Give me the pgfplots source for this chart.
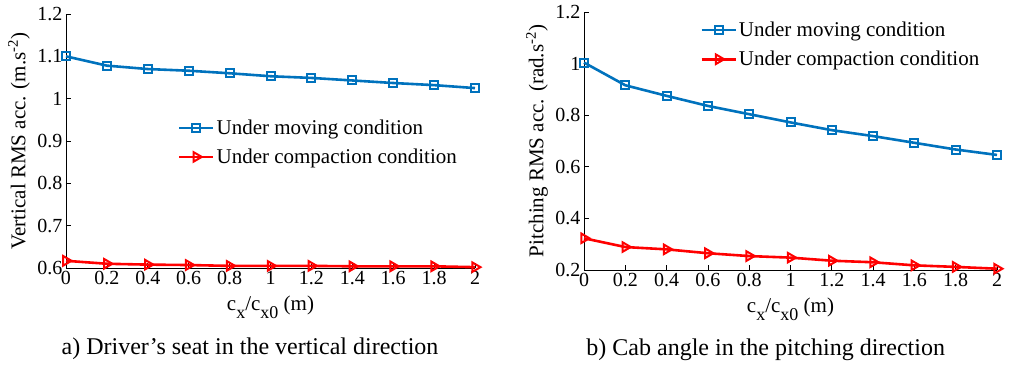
\documentclass[border=0pt]{standalone}
\usepackage{pgfplots}
\pgfplotsset{compat=1.18}
\usepackage{fontspec}
\setmainfont{Liberation Serif}
\definecolor{mblue}{RGB}{0,114,189}
\definecolor{mred}{RGB}{255,0,0}
\pgfplotsset{
  mystyle/.style={
    scale only axis,
    axis x line*=bottom, axis y line*=left,
    axis line style={-, black, line width=0.8pt},
    tick style={black, line width=0.8pt},
    major tick length=5pt,
    tick align=inside,
    xmin=0, xmax=2,
    xtick={0,0.2,...,2.01},
    /pgf/number format/assume math mode=true,
    tick label style={font=\fontsize{20}{22}\selectfont},
    label style={font=\fontsize{21}{24}\selectfont},
    legend style={draw=none, fill=none, font=\fontsize{21}{26}\selectfont, row sep=9pt, legend cell align=left, anchor=north west},
    legend image code/.code={\draw[mark repeat=2,mark phase=2] plot coordinates {(0pt,0pt)(17pt,0pt)(34pt,0pt)};},
    xlabel={c\raisebox{-0.85ex}{\fontsize{18}{20}\selectfont x}/c\raisebox{-0.85ex}{\fontsize{18}{20}\selectfont x0} (m)},
    xlabel style={yshift=-4pt},
    ylabel style={at={([xshift=-47pt]axis description cs:0,0.5)}, anchor=center},
    clip=false,
  },
  blueline/.style={mblue, line width=2.6pt, mark=square, mark size=4pt, mark options={fill=white, line width=2pt}},
  redline/.style={mred, line width=2.6pt, mark=triangle, mark size=5.5pt, mark options={rotate=-90, fill=white, line width=2pt}},
}
\begin{document}
\begin{tikzpicture}
\useasboundingbox (-66pt,-96pt) rectangle (951pt,268pt);
\begin{axis}[
  mystyle,
  at={(0pt,0pt)}, anchor=south west,
  width=409pt, height=254pt,
  ymin=0.6, ymax=1.2, ytick={0.6,0.7,...,1.21},
  ylabel={Vertical RMS acc. (m.s\textsuperscript{-2})},
  legend style={at={(axis description cs:0.266,0.60)}},
]
\addplot[blueline] coordinates {(0,1.100)(0.2,1.078)(0.4,1.070)(0.6,1.066)(0.8,1.060)(1,1.053)(1.2,1.049)(1.4,1.043)(1.6,1.037)(1.8,1.032)(2,1.025)};
\addlegendentry{Under moving condition}
\addplot[redline] coordinates {(0,0.617)(0.2,0.610)(0.4,0.608)(0.6,0.607)(0.8,0.605)(1,0.605)(1.2,0.605)(1.4,0.604)(1.6,0.604)(1.8,0.604)(2,0.602)};
\addlegendentry{Under compaction condition}
\node[font=\fontsize{24}{26}\selectfont, anchor=base] at ([yshift=-86pt]axis description cs:0.45,0) {a) Driver’s seat in the vertical direction};
\end{axis}
\begin{axis}[
  mystyle,
  at={(518pt,-2pt)}, anchor=south west,
  width=413pt, height=258pt,
  ymin=0.2, ymax=1.2, ytick={0.2,0.4,...,1.21},
  ylabel={Pitching RMS acc. (rad.s\textsuperscript{-2})},
  legend style={at={(axis description cs:0.274,0.977)}},
]
\addplot[blueline] coordinates {(0,1.004)(0.2,0.916)(0.4,0.875)(0.6,0.836)(0.8,0.804)(1,0.772)(1.2,0.742)(1.4,0.719)(1.6,0.693)(1.8,0.667)(2,0.646)};
\addlegendentry{Under moving condition}
\addplot[redline] coordinates {(0,0.323)(0.2,0.289)(0.4,0.280)(0.6,0.265)(0.8,0.254)(1,0.248)(1.2,0.236)(1.4,0.230)(1.6,0.218)(1.8,0.212)(2,0.205)};
\addlegendentry{Under compaction condition}
\node[font=\fontsize{24}{26}\selectfont, anchor=base] at ([yshift=-85pt]axis description cs:0.44,0) {b) Cab angle in the pitching direction};
\end{axis}
\end{tikzpicture}
\end{document}
